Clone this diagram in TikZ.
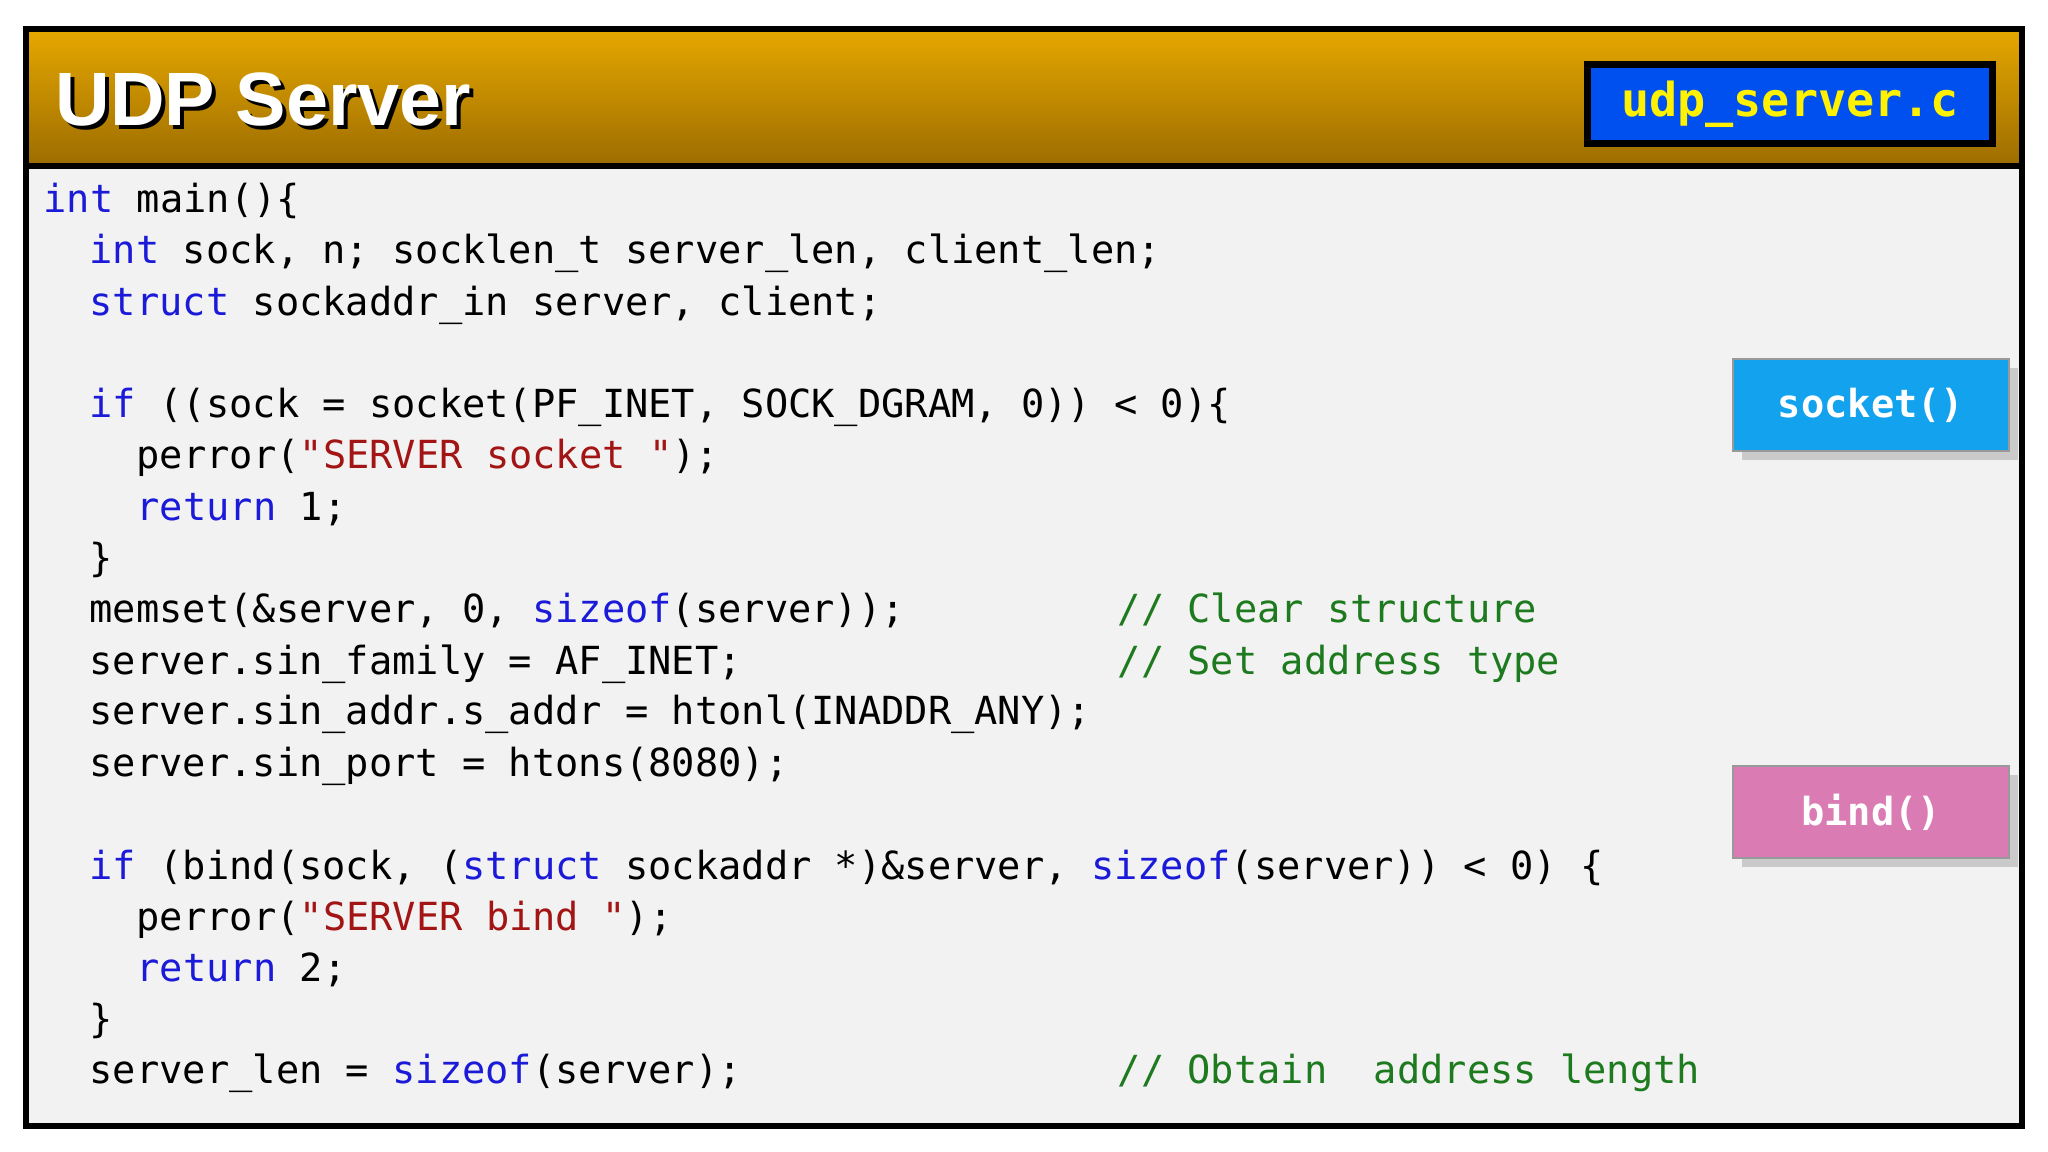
\documentclass[tikz,border=0pt]{standalone}
\usepackage{fontspec}
\setmainfont{Liberation Sans}
\setmonofont{DejaVu Sans Mono}
\usetikzlibrary{shadows}
\definecolor{gold}{HTML}{E6A800}
\definecolor{darkgold}{HTML}{9C6C00}
\definecolor{paper}{HTML}{F2F2F2}
\definecolor{kwblue}{HTML}{1A1AD8}
\definecolor{strred}{HTML}{A31515}
\definecolor{cmgreen}{HTML}{1E7A1E}
\definecolor{fileblue}{HTML}{0050F0}
\definecolor{sockblue}{HTML}{12A2EE}
\definecolor{bindpink}{HTML}{DA7BB4}
\newcommand{\kw}[1]{\textcolor{kwblue}{#1}}
\newcommand{\str}[1]{\textcolor{strred}{#1}}
\begin{document}
\begin{tikzpicture}[x=0.01cm,y=-0.01cm,
  codeline/.style={anchor=base west,inner sep=0pt,font=\ttfamily\fontsize{11}{13}\selectfont},
  comment/.style={codeline,text=cmgreen},
  callbox/.style={draw=black!40,text=white,
    font=\ttfamily\bfseries\fontsize{11}{13}\selectfont,drop shadow={opacity=0.35}}]
  \useasboundingbox (0,0) rectangle (2048,1152);
  % frame and header
  \fill[paper] (26,29) rectangle (2022,1126);
  \shade[top color=gold,bottom color=darkgold] (26,29) rectangle (2022,166);
  \draw[line width=1.5pt] (26,166) -- (2022,166);
  \draw[line width=1.5pt] (26,29) rectangle (2022,1126);
  \node[anchor=west,text=black,font=\bfseries\fontsize{21.5}{24}\selectfont] at (47,103) {UDP Server};
  \node[anchor=west,text=white,font=\bfseries\fontsize{21.5}{24}\selectfont] (title) at (43,99) {UDP Server};
  \node[draw=black,line width=2pt,fill=fileblue,text=yellow,minimum width=4.05cm,minimum height=0.78cm,
    font=\ttfamily\bfseries\fontsize{13.3}{15}\selectfont] (file) at (1790,104) {udp\_server.c};
  % code
  \node[codeline] (l0) at (43,213) {\kw{int} main()\{};
  \node[codeline] (l1) at (89,264) {\kw{int} sock, n; socklen\_t server\_len, client\_len;};
  \node[codeline] (l2) at (89,316) {\kw{struct} sockaddr\_in server, client;};
  \node[codeline] (l4) at (89,418) {\kw{if} ((sock = socket(PF\_INET, SOCK\_DGRAM, 0)) < 0)\{};
  \node[codeline] (l5) at (136,469) {perror(\str{"SERVER socket "});};
  \node[codeline] (l6) at (136,521) {\kw{return} 1;};
  \node[codeline] (l7) at (89,572) {\}};
  \node[codeline] (l8) at (89,623) {memset(\&server, 0, \kw{sizeof}(server));};
  \node[codeline] (l9) at (89,674) {server.sin\_family = AF\_INET;};
  \node[codeline] (l10) at (89,725) {server.sin\_addr.s\_addr = htonl(INADDR\_ANY);};
  \node[codeline] (l11) at (89,776) {server.sin\_port = htons(8080);};
  \node[codeline] (l13) at (89,879) {\kw{if} (bind(sock, (\kw{struct} sockaddr *)\&server, \kw{sizeof}(server)) < 0) \{};
  \node[codeline] (l14) at (136,930) {perror(\str{"SERVER bind "});};
  \node[codeline] (l15) at (136,981) {\kw{return} 2;};
  \node[codeline] (l16) at (89,1032) {\}};
  \node[codeline] (l17) at (89,1083) {server\_len = \kw{sizeof}(server);};
  \node[comment] (c8) at (1117,623) {// Clear structure};
  \node[comment] (c9) at (1117,674) {// Set address type};
  \node[comment] (c17) at (1117,1083) {// Obtain\ \ address length};
  % calls
  \node[callbox,fill=sockblue,minimum width=2.76cm,minimum height=0.92cm] (socketcall) at (1871,405) {socket()};
  \node[callbox,fill=bindpink,minimum width=2.76cm,minimum height=0.92cm] (bindcall) at (1871,812) {bind()};
\end{tikzpicture}
\end{document}
